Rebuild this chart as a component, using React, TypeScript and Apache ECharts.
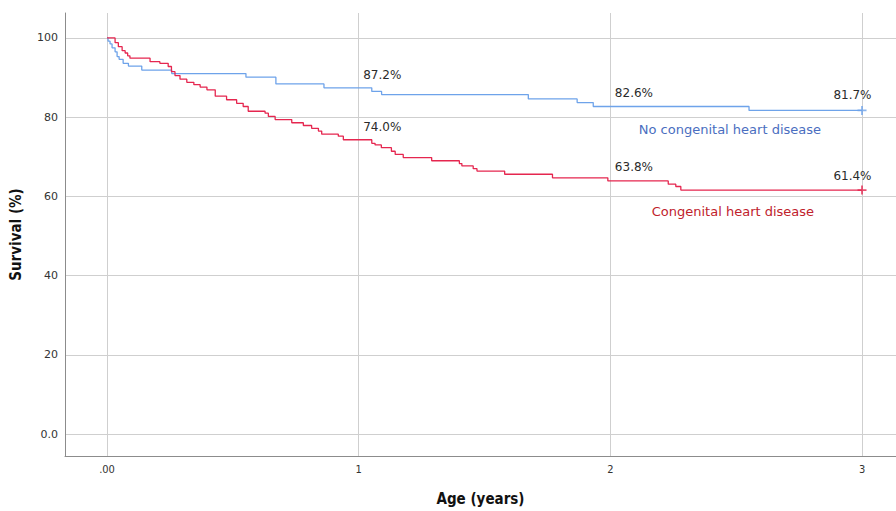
import React, { useEffect, useRef } from "react";
import * as echarts from "echarts";

// Axis ticks
const yTicks = [0, 20, 40, 60, 80, 100];
const xTicks = [0, 1, 2, 3];

// Kaplan–Meier step points [time (years), survival (%)]
const noChdSurvival: [number, number][] = [
  [0, 100], [0.004, 99.2], [0.012, 98.5], [0.02, 97.5], [0.032, 96.5], [0.04, 95.3],
  [0.048, 94.6], [0.064, 93.6], [0.085, 92.9], [0.138, 91.9], [0.257, 91.0],
  [0.552, 90.1], [0.671, 88.4], [0.862, 87.4], [1.052, 86.5], [1.091, 85.7],
  [1.674, 84.6], [1.868, 83.7], [1.932, 82.7], [2.551, 81.7], [3.0, 81.7],
];
const chdSurvival: [number, number][] = [
  [0, 100], [0.032, 98.8], [0.045, 97.8], [0.06, 96.8], [0.072, 96.2], [0.082, 95.5],
  [0.091, 94.9], [0.171, 94.0], [0.21, 93.6], [0.243, 92.8], [0.256, 91.5],
  [0.27, 90.5], [0.29, 89.6], [0.317, 88.8], [0.345, 88.2], [0.37, 87.6], [0.397, 86.9],
  [0.43, 85.3], [0.475, 84.4], [0.515, 83.5], [0.541, 82.7], [0.561, 81.5],
  [0.628, 81.0], [0.641, 80.2], [0.668, 79.4], [0.734, 78.6], [0.78, 77.9],
  [0.813, 77.2], [0.84, 76.5], [0.853, 75.7], [0.919, 75.2], [0.939, 74.3],
  [1.052, 73.4], [1.065, 73.0], [1.09, 72.3], [1.13, 71.4], [1.145, 70.6],
  [1.177, 69.8], [1.29, 69.0], [1.40, 68.3], [1.41, 67.7], [1.455, 67.0],
  [1.47, 66.4], [1.58, 65.6], [1.77, 64.7], [1.99, 63.9], [2.23, 63.1],
  [2.26, 62.5], [2.28, 61.6], [3.0, 61.6],
];
const noChdCensored: [number, number][] = [[3.0, 81.7]];
const chdCensored: [number, number][] = [[3.0, 61.6]];

// Survival estimates annotated at 1, 2, 3 years
const labelTimes = [1, 2, 3];
const noChdAtTimes = [87.2, 82.6, 81.7];
const chdAtTimes = [74.0, 63.8, 61.4];

const groupNames = ["No congenital heart disease", "Congenital heart disease"];

const BLUE = "#6ea3ea";
const RED = "#e5264f";
const PLUS = "path://M4,0h2v10h-2zM0,4h10v2h-10z";
const FONT = "DejaVu Sans";

function estimateMarks(times: number[], values: number[]) {
  return times.map((t, i) => ({
    coord: [t, values[i]],
    value: values[i],
    label: {
      show: true,
      position: "right",
      distance: 0,
      align: i === times.length - 1 ? "right" : "left",
      offset: i === times.length - 1 ? [9, -15] : [4, -14],
      formatter: values[i].toFixed(1) + "%",
      color: "#2b2b2b",
      fontSize: 12,
      fontFamily: FONT,
    },
  }));
}

export default function App() {
  const ref = useRef<HTMLDivElement>(null);
  useEffect(() => {
    if (!ref.current) return;
    const chart = echarts.init(ref.current, null, { renderer: "svg" });
    chart.setOption({
      animation: false,
      backgroundColor: "#ffffff",
      grid: { left: 65, top: 13, right: 0, bottom: 53 },
      xAxis: {
        type: "value",
        min: -0.167,
        max: 3.135,
        name: "Age (years)",
        nameLocation: "middle",
        nameGap: 35,
        nameTextStyle: { fontFamily: "DejaVu Sans Condensed", fontWeight: "bold", fontSize: 15, color: "#111" },
        axisLine: { show: true, onZero: false, lineStyle: { color: "#8c8c8c", width: 1 } },
        axisTick: { show: false, customValues: xTicks },
        axisLabel: {
          customValues: xTicks,
          margin: 8,
          color: "#333",
          fontSize: 11,
          fontFamily: "DejaVu Sans Condensed",
          formatter: (v: number) => (v === 0 ? ".00" : String(v)),
        },
        splitLine: { show: true, lineStyle: { color: "#cfcfcf", width: 1 } },
      },
      yAxis: {
        type: "value",
        min: -5.53,
        max: 106.3,
        name: "Survival (%)",
        nameLocation: "middle",
        nameRotate: 90,
        nameGap: 42,
        nameTextStyle: { fontFamily: "DejaVu Sans Condensed", fontWeight: "bold", fontSize: 15, color: "#111" },
        axisLine: { show: true, onZero: false, lineStyle: { color: "#8c8c8c", width: 1 } },
        axisTick: { show: false, customValues: yTicks },
        axisLabel: {
          customValues: yTicks,
          margin: 7,
          color: "#333",
          fontSize: 11,
          fontFamily: FONT,
          formatter: (v: number) => (v === 0 ? "0.0" : String(v)),
        },
        splitLine: { show: true, lineStyle: { color: "#cfcfcf", width: 1 } },
      },
      series: [
        {
          name: groupNames[0],
          type: "line",
          step: "end",
          data: noChdSurvival,
          symbol: "none",
          lineStyle: { color: BLUE, width: 1.3 },
          z: 3,
          markPoint: {
            symbol: "circle",
            symbolSize: 1,
            itemStyle: { color: "rgba(0,0,0,0)" },
            data: [
              ...estimateMarks(labelTimes, noChdAtTimes),
              {
                coord: [2.475, 76.9],
                label: {
                  show: true,
                  position: "inside",
                  formatter: groupNames[0],
                  color: "#4a6ec0",
                  fontSize: 13,
                  fontFamily: FONT,
                },
              },
            ],
          },
        },
        {
          name: groupNames[1],
          type: "line",
          step: "end",
          data: chdSurvival,
          symbol: "none",
          lineStyle: { color: RED, width: 1.3 },
          z: 3,
          markPoint: {
            symbol: "circle",
            symbolSize: 1,
            itemStyle: { color: "rgba(0,0,0,0)" },
            data: [
              ...estimateMarks(labelTimes, chdAtTimes),
              {
                coord: [2.487, 56.3],
                label: {
                  show: true,
                  position: "inside",
                  formatter: groupNames[1],
                  color: "#c0222c",
                  fontSize: 13,
                  fontFamily: FONT,
                },
              },
            ],
          },
        },
        {
          type: "scatter",
          data: noChdCensored,
          symbol: PLUS,
          symbolSize: 9,
          itemStyle: { color: BLUE },
          z: 4,
        },
        {
          type: "scatter",
          data: chdCensored,
          symbol: PLUS,
          symbolSize: 9,
          itemStyle: { color: RED },
          z: 4,
        },
      ],
    });
    return () => chart.dispose();
  }, []);
  return (
    <div
      ref={ref}
      style={{ position: "fixed", left: 0, top: 0, width: 896, height: 511, background: "#fff" }}
    />
  );
}
